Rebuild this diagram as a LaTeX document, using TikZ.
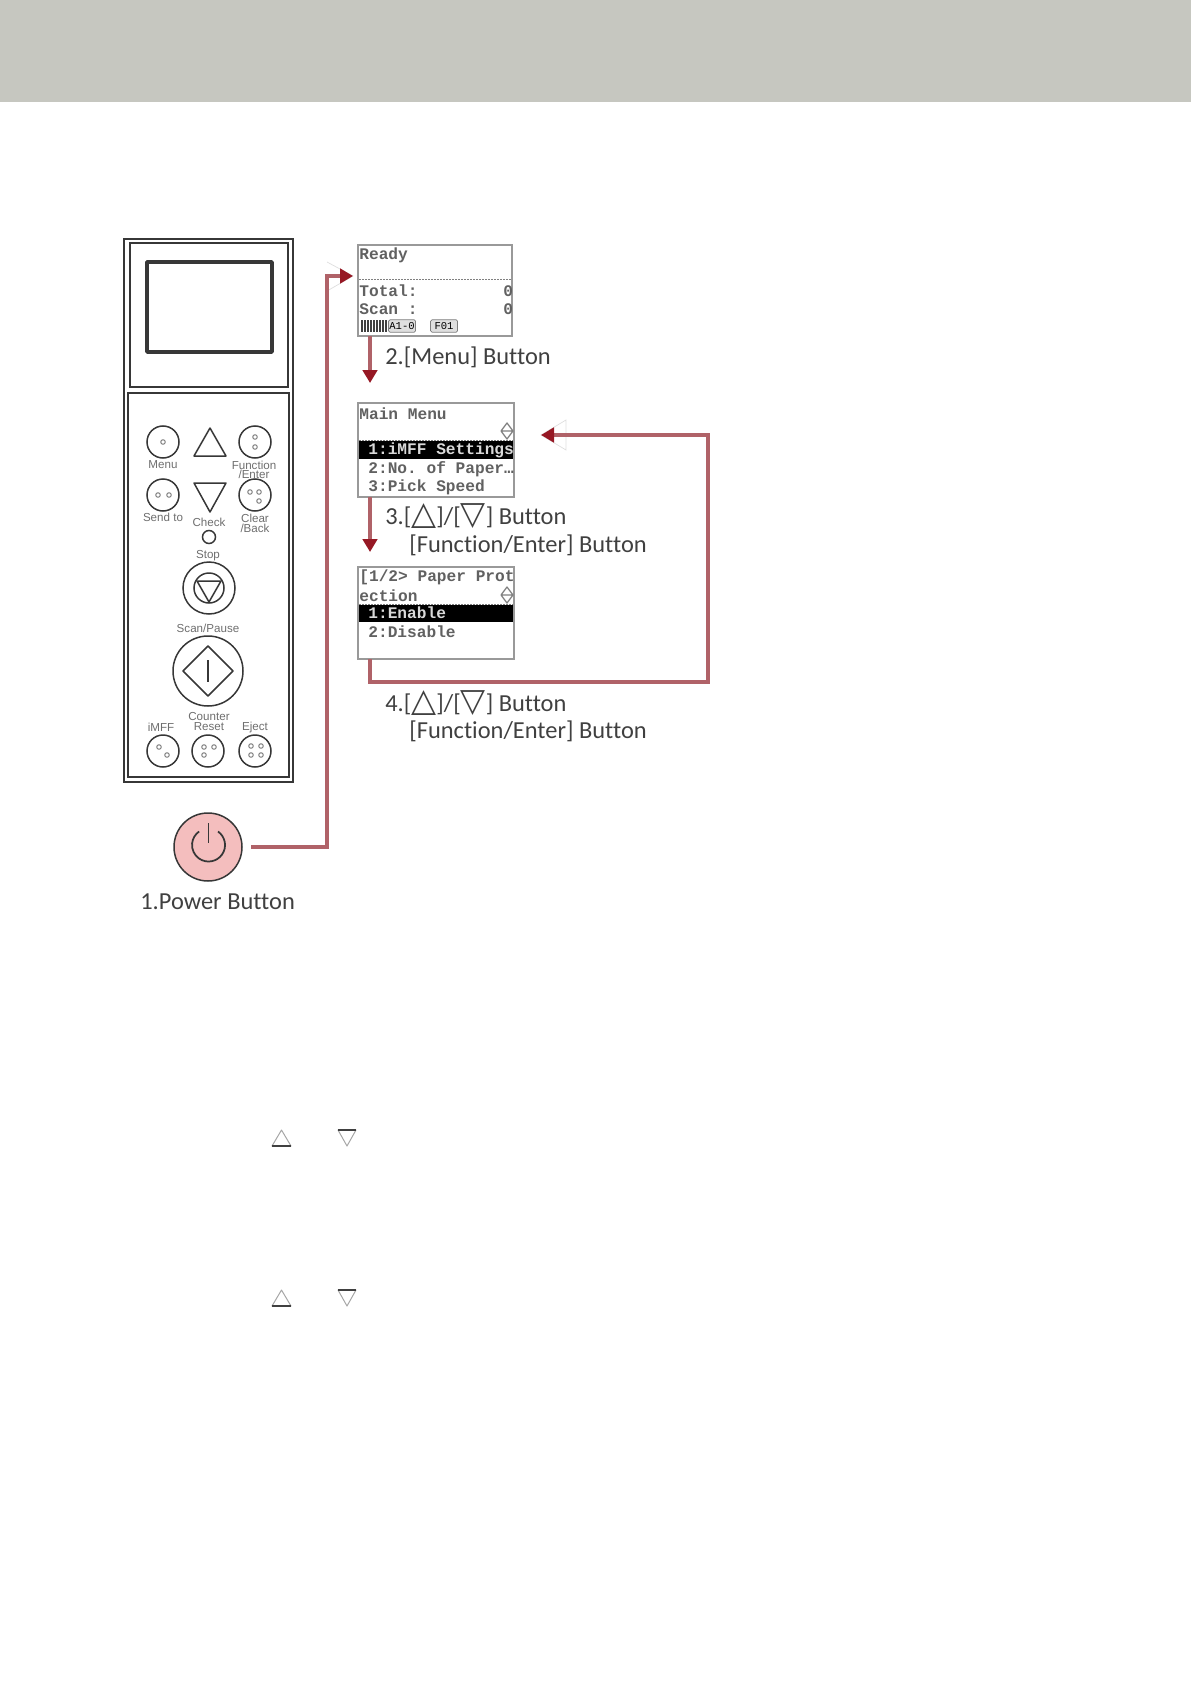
\documentclass[tikz,border=0pt]{standalone}
\usepackage{fontspec}
\setmainfont[Ligatures=NoCommon]{Carlito}
\setsansfont{Liberation Sans}
\setmonofont{Liberation Mono}
\newfontfamily\symfont{DejaVu Sans}
\usetikzlibrary{arrows.meta, positioning}
\definecolor{xBand}{RGB}{198,199,192}
\definecolor{xLine}{RGB}{176,98,104}
\definecolor{xHead}{RGB}{150,24,36}
\definecolor{xPink}{RGB}{244,190,190}
\definecolor{xPanel}{RGB}{55,55,55}
\definecolor{xCaption}{RGB}{110,110,110}
\tikzset{
  band/.style={fill=xBand, draw=none},
  shell/.style={draw=xPanel, line width=0.4mm},
  round/.style={draw=xPanel, circle, line width=0.3mm, inner sep=0pt, outer sep=0pt},
  keyS/.style={round, minimum size=6.4mm},
  knob/.style={draw=xPanel, line width=0.3mm, line join=round},
  keydot/.style={draw=gray, line width=0.2mm},
  tag/.style={font=\sffamily\fontsize{6.6pt}{7pt}\selectfont, text=xCaption, inner sep=0pt},
  screen/.style={draw=gray!80, line width=0.35mm, fill=white, anchor=north west, inner sep=0pt, outer sep=0pt},
  lcd/.style={font=\ttfamily\bfseries\fontsize{9.2pt}{10pt}\selectfont, text=black!62, anchor=west, inner sep=0pt},
  lcdinv/.style={lcd, text=white!85!black},
  bar/.style={fill=black, draw=none},
  rule/.style={draw=gray, line width=0.2mm, dash pattern=on 0.4mm off 0.2mm},
  flow/.style={draw=xLine, line width=0.62mm, line join=miter, -{Triangle[length=2.6mm,width=2.9mm,color=xHead]}},
  ghost/.style={draw=gray!25, line width=0.15mm},
  caption/.style={font=\fontsize{13.9pt}{16pt}\selectfont, text=black!75, anchor=west, inner sep=0pt},
  badge/.style={draw=gray, fill=gray!25, rounded corners=0.3mm, minimum width=5.4mm, minimum height=2.5mm, inner sep=0pt,
        font=\ttfamily\fontsize{6pt}{6pt}\selectfont},
  bodyglyph/.style={draw=gray!70, line width=0.2mm, line join=round},
  bodybase/.style={draw=black!75, line width=0.3mm},
}
\newcommand{\upmark}{{\symfont\fontsize{18.5pt}{16pt}\selectfont △}}
\newcommand{\downmark}{{\symfont\fontsize{18.5pt}{16pt}\selectfont ▽}}
\begin{document}
\begin{tikzpicture}[x=0.2mm, y=-0.2mm]
  \useasboundingbox (0,0) rectangle (1191,1684);
  \fill[band] (0,0) rectangle (1191,102);

  % control panel
  \draw[shell] (124,239) rectangle (293,782);
  \draw[shell] (130,243) rectangle (288,387);
  \draw[shell] (128,393) rectangle (289,777);
  \draw[knob, line width=0.7mm] (147,262) rectangle (272,352);

  \node[keyS] (menu) at (163,442) {};
  \node[keyS] (func) at (255,442) {};
  \node[keyS] (send) at (163,495) {};
  \node[keyS] (clear) at (255,495) {};
  \node[keyS] (imff) at (163,751) {};
  \node[keyS] (counter) at (208,751) {};
  \node[keyS] (eject) at (255,751) {};
  \node[round, minimum size=2.6mm] (check) at (209,537) {};
  \node[round, minimum size=10.4mm] (stop) at (209,588) {};
  \node[round, minimum size=6mm] (stopin) at (209,588) {};
  \node[round, minimum size=14mm] (scan) at (208,671) {};
  \foreach \x/\y in {163/442, 255/437, 255/447, 158/495, 169/495, 250/492, 259/492, 259/501,
                     159/747, 167/755, 204/747, 214/747, 204/755, 251/746, 261/746, 251/755, 261/755}
    \draw[keydot] (\x,\y) circle[radius=0.45mm];

  \draw[knob] (210,428) -- (226,456) -- (194,456) -- cycle;
  \draw[knob] (194,483) -- (226,483) -- (210,512) -- cycle;
  \draw[knob] (197,581) -- (221,581) -- (209,602) -- cycle;
  \draw[knob] (208,646) -- (233,671) -- (208,696) -- (183,671) -- cycle;
  \draw[knob] (208,660) -- (208,682);

  \node[tag] at (163,465) {Menu};
  \node[tag] at (254,465) {Function};
  \node[tag] at (254,474) {/Enter};
  \node[tag] at (163,517) {Send to};
  \node[tag] at (209,522) {Check};
  \node[tag] at (255,518) {Clear};
  \node[tag] at (255,528) {/Back};
  \node[tag] at (208,556) {Stop};
  \node[tag] at (208,628) {Scan/Pause};
  \node[tag] at (209,716) {Counter};
  \node[tag] at (209,727) {Reset};
  \node[tag] at (161,727) {iMFF};
  \node[tag] at (255,727) {Eject};

  % power button
  \node[round, fill=xPink, minimum size=13.6mm] (power) at (208,847) {};
  \draw[knob, line width=0.35mm] (218,831.5) arc[start angle=55, end angle=-235, radius=3.3mm];
  \draw[knob, line width=0.35mm] (208.5,823) -- (208.5,843);
  \node[caption] (powerlabel) at (140,902) {1.Power Button};

  % screens
  \node[screen, minimum width=30.8mm, minimum height=18.2mm] (ready) at (358,245) {};
  \draw[rule] (359,280) -- (511,280);
  \node[lcd] at (359,255) {Ready};
  \node[lcd] at (359,291) {Total:};
  \node[lcd] at (359,309) {Scan :};
  \node[lcd] at (503,291) {0};
  \node[lcd] at (503,309) {0};
  \draw[black!75, line width=2.2mm, dash pattern=on 0.4mm off 0.2mm] (361,326) -- (388,326);
  \node[badge] (acount) at (402,326) {A1-0};
  \node[badge] (fcount) at (444,326) {F01};

  \node[screen, minimum width=31.2mm, minimum height=18.8mm] (main) at (358,403) {};
  \node[lcd] at (359,414) {Main Menu};
  \draw[rule] (359,440) -- (513,440);
  \fill[bar] (359,441) rectangle (513,459);
  \node[lcdinv] at (368,450) {1:iMFF Settings};
  \node[lcd] at (368,469) {2:No. of Paper…};
  \node[lcd] at (368,487) {3:Pick Speed};
  \draw[knob, draw=gray, line width=0.25mm] (507,423) -- (513,431) -- (507,439) -- (501,431) -- cycle (501,431) -- (513,431);

  \node[screen, minimum width=31.2mm, minimum height=18.4mm] (prot) at (358,567) {};
  \node[lcd] at (359,577) {[1/2> Paper Prot};
  \node[lcd] at (359,596) {ection};
  \draw[rule] (359,604) -- (513,604);
  \fill[bar] (359,605) rectangle (513,622);
  \node[lcdinv] at (368,613) {1:Enable};
  \node[lcd] at (368,632) {2:Disable};
  \draw[knob, draw=gray, line width=0.25mm] (507,587) -- (513,595) -- (507,603) -- (501,595) -- cycle (501,595) -- (513,595);

  % connectors
  \coordinate (readyin) at (353,276);
  \coordinate (powerup) at (327,847);
  \coordinate (readyout) at (370,336);
  \coordinate (mainin) at (370,383);
  \coordinate (mainout) at (370,497);
  \coordinate (protin) at (370,552);
  \coordinate (protout) at (370,659);
  \coordinate (loopa) at (370,682);
  \coordinate (loopb) at (708,682);
  \coordinate (loopc) at (708,435);
  \coordinate (mainback) at (541,435);
  \draw[ghost] (327,262) -- (353,276) -- (327,291);
  \draw[ghost] (566,420) -- (541,435) -- (566,450) -- cycle;
  \draw[flow] (power.east) ++(9,0) -- (powerup) |- (readyin);
  \draw[flow] (readyout) -- (mainin);
  \draw[flow] (mainout) -- (protin);
  \draw[flow] (protout) -- (loopa) -- (loopb) -- (loopc) -- (mainback);

  % step captions
  \node[caption] at (385,357) {2.[Menu] Button};
  \node[caption] at (385,516) {3.[\upmark]/[\downmark] Button};
  \node[caption] at (409,545) {[Function/Enter] Button};
  \node[caption] at (385,703) {4.[\upmark]/[\downmark] Button};
  \node[caption] at (409,731) {[Function/Enter] Button};

  % small marks in the text area
  \draw[bodyglyph] (281.5,1130) -- (291,1146) -- (272,1146) -- cycle;
  \draw[bodybase] (272,1146) -- (291,1146);
  \draw[bodyglyph] (338,1130) -- (356,1130) -- (347,1146) -- cycle;
  \draw[bodybase] (338,1130) -- (356,1130);
  \draw[bodyglyph] (281.5,1290) -- (291,1306) -- (272,1306) -- cycle;
  \draw[bodybase] (272,1306) -- (291,1306);
  \draw[bodyglyph] (338,1290) -- (356,1290) -- (347,1306) -- cycle;
  \draw[bodybase] (338,1290) -- (356,1290);
\end{tikzpicture}
\end{document}
